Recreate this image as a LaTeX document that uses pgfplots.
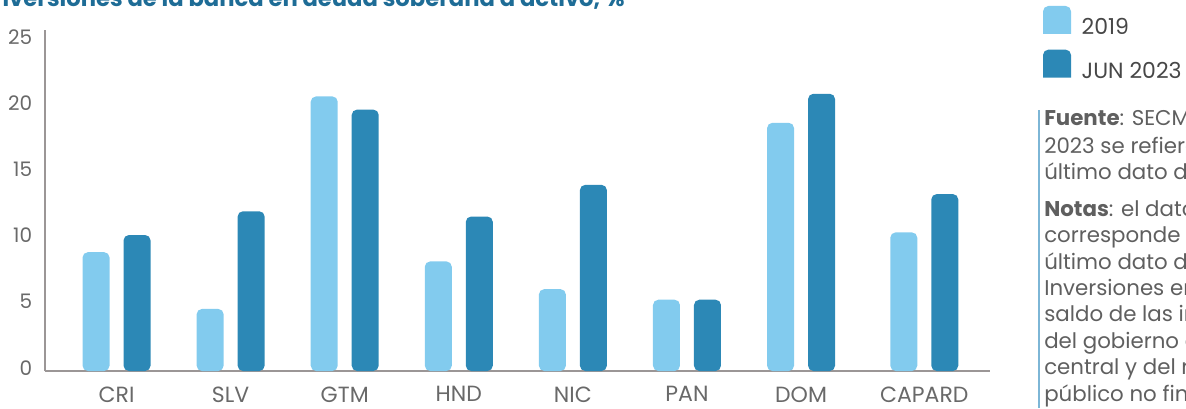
\documentclass[border=0pt]{standalone}
\usepackage{fontspec}
\setmainfont{Poppins}
\usepackage{pgfplots}
\pgfplotsset{compat=1.18}

\definecolor{light}{RGB}{130,203,238}
\definecolor{dark}{RGB}{44,136,182}
\definecolor{titleblue}{RGB}{30,108,150}
\definecolor{axisgray}{RGB}{155,150,150}
\definecolor{textgray}{RGB}{105,105,105}
\definecolor{notegray}{RGB}{95,95,95}
\definecolor{noteline}{RGB}{125,182,214}

% one unit = one pixel of the 1186x408 picture
\begin{document}
\begin{tikzpicture}[x=0.75pt, y=0.75pt]
\useasboundingbox (0,0) rectangle (1186,408);
\clip (0,0) rectangle (1186,408);

% title, cut by the top edge
\node[anchor=base west, inner sep=0pt, text=titleblue,
      font=\fontsize{17}{20}\selectfont\bfseries] at (-13,401)
  {Inversiones de la banca en deuda soberana a activo, \%};

\begin{axis}[
    at={(33.75pt,27.75pt)}, anchor=south west,
    scale only axis, width=708.75pt, height=255.75pt,
    xmin=-0.627, xmax=7.656, ymin=0, ymax=25.83,
    axis x line=bottom, axis y line=left,
    axis line style={axisgray, line width=1.6pt, -},
    major tick length=0pt,
    xtick={0,1,2,3,4,5,6,7.08},
    xticklabels={CRI,SLV,GTM,HND,NIC,PAN,DOM,CAPARD},
    ytick={0,5,10,15,20,25},
    /pgf/number format/assume math mode=true,
    tick label style={text=textgray},
    xticklabel style={anchor=north, inner sep=0pt, yshift=-11.5pt,
                      font=\fontsize{16.5}{19}\selectfont},
    yticklabel style={anchor=east, inner sep=0pt, xshift=-9.5pt, yshift=2.5pt,
                      font=\fontsize{15}{18}\selectfont},
    ybar, bar width=20.25pt,
    legend style={at={(1.0561,1.0704)}, anchor=north west, draw=none, fill=none,
                  inner sep=0pt, outer sep=0pt, row sep=7.5pt, column sep=6pt,
                  font=\fontsize{16.5}{19}\selectfont, text=black!72},
    legend cell align=left,
    legend image code/.code={%
      \fill[#1] (0pt,-4.6pt) [rounded corners=4pt] -- (0pt,16.4pt) -- (21pt,16.4pt)
        [sharp corners] -- (21pt,-4.6pt) -- cycle;},
]
\addplot[fill=light, draw=none, bar shift=-15.375pt, rounded corners=4pt] coordinates {
    (0,9.0) (1,4.7) (2,20.8) (3,8.3) (4,6.2) (5,5.4) (6,18.8) (7.08,10.5)
};
\addlegendentry{2019}
\addplot[fill=dark, draw=none, bar shift=15.375pt, rounded corners=4pt] coordinates {
    (0,10.3) (1,12.1) (2,19.8) (3,11.7) (4,14.1) (5,5.4) (6,21.0) (7.08,13.4)
};
\addlegendentry{JUN 2023}
\end{axis}

% source and notes, cut by the right edge
\draw[noteline, line width=1.5pt] (1039,0) -- (1039,298);
\begin{scope}[every node/.style={anchor=base west, inner sep=0pt, text=notegray,
                                 font=\fontsize{16}{19}\selectfont}]
\node at (1044,282) {{\bfseries Fuente}: SECMCA. El dato de};
\node at (1044,255) {2023 se refiere al};
\node at (1044,229) {último dato disponible.};
\node at (1044,192) {{\bfseries Notas}: el dato de 2019};
\node at (1044,166) {corresponde al};
\node at (1044,139) {último dato de diciembre.};
\node at (1044,113) {Inversiones en deuda};
\node at (1044,87)  {saldo de las inversiones};
\node at (1044,60)  {del gobierno central, banco};
\node at (1044,34)  {central y del resto del};
\node at (1044,7)   {público no financiero.};
\end{scope}
\end{tikzpicture}
\end{document}
